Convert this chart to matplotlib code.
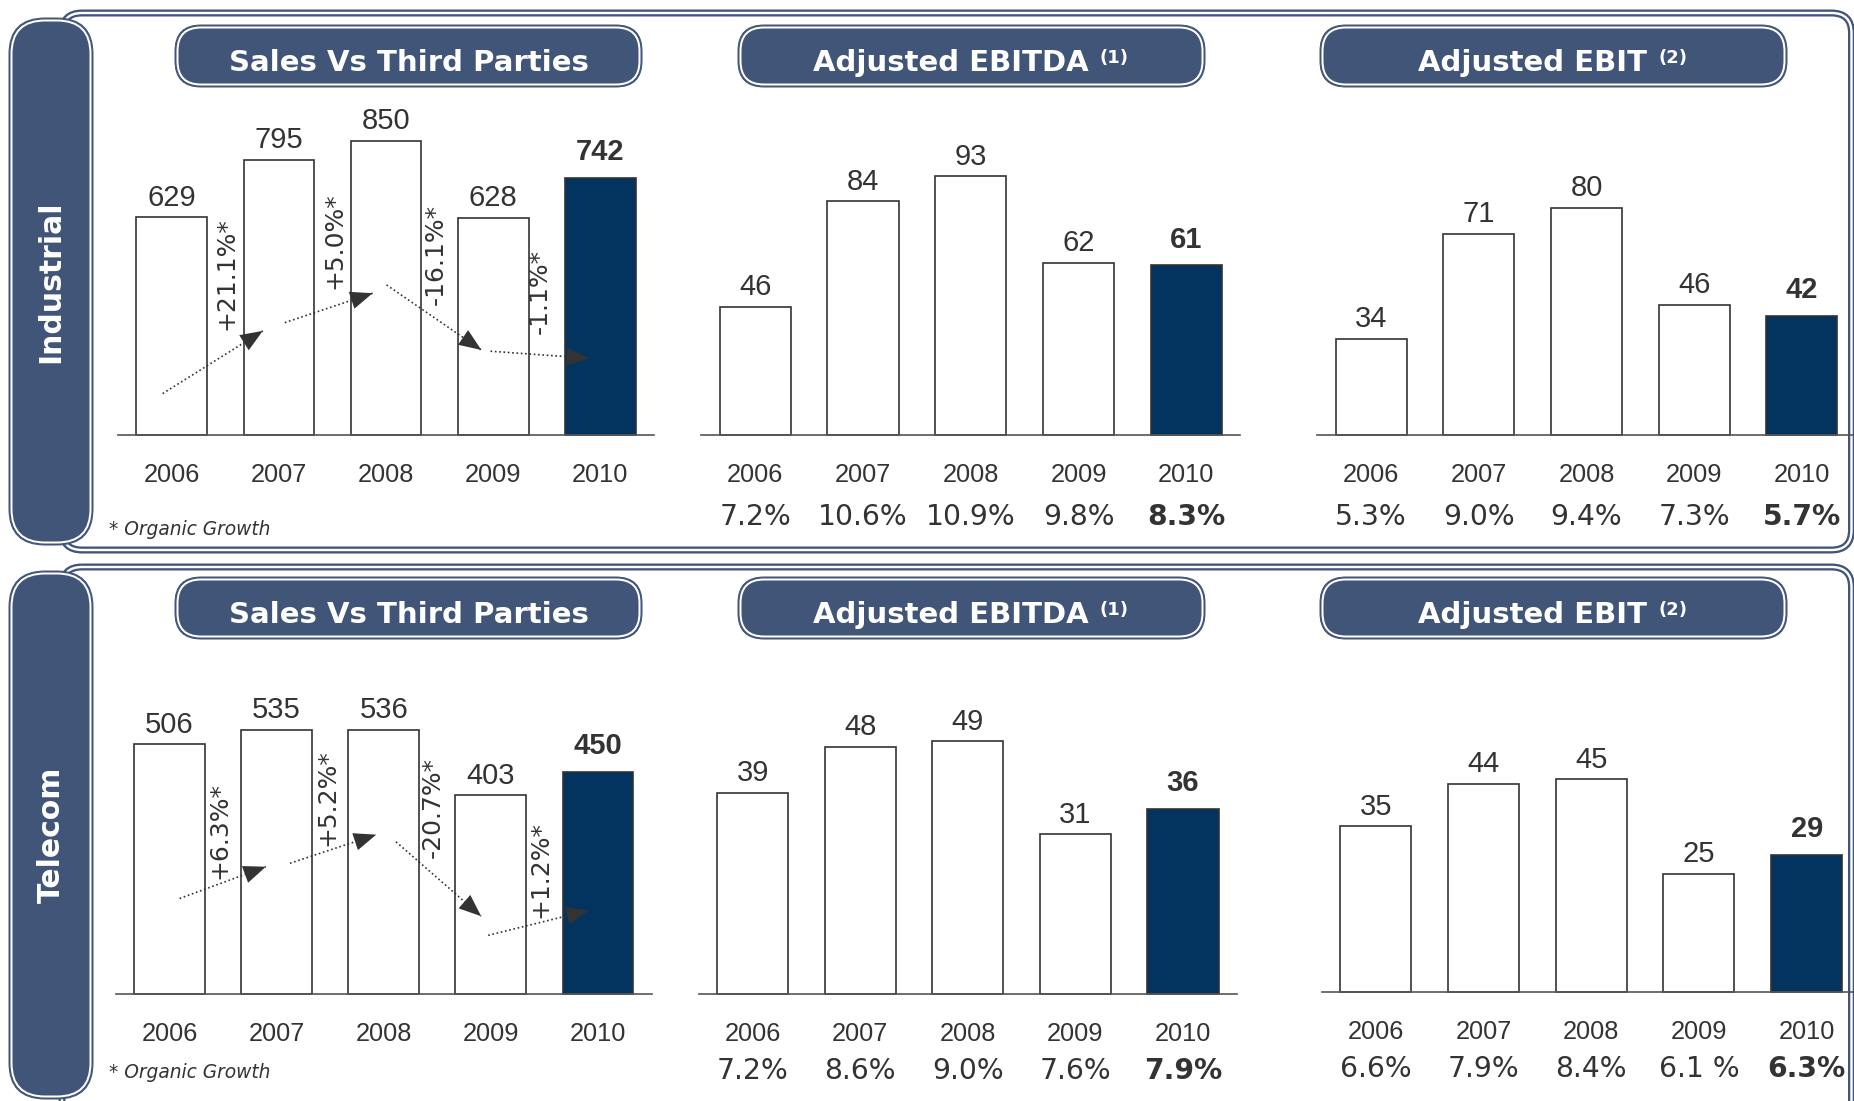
import matplotlib.pyplot as plt
from matplotlib.patches import FancyBboxPatch

# ---- data ----
years = ['2006', '2007', '2008', '2009', '2010']

ind_sales = [629, 795, 850, 628, 742]
ind_ebitda = [46, 84, 93, 62, 61]
ind_ebit = [34, 71, 80, 46, 42]
ind_ebitda_margin = ['7.2%', '10.6%', '10.9%', '9.8%', '8.3%']
ind_ebit_margin = ['5.3%', '9.0%', '9.4%', '7.3%', '5.7%']
ind_growth = ['+21.1%*', '+5.0%*', '-16.1%*', '-1.1%*']

tel_sales = [506, 535, 536, 403, 450]
tel_ebitda = [39, 48, 49, 31, 36]
tel_ebit = [35, 44, 45, 25, 29]
tel_ebitda_margin = ['7.2%', '8.6%', '9.0%', '7.6%', '7.9%']
tel_ebit_margin = ['6.6%', '7.9%', '8.4%', '6.1 %', '6.3%']
tel_growth = ['+6.3%*', '+5.2%*', '-20.7%*', '+1.2%*']

titles = ['Sales Vs Third Parties', 'Adjusted EBITDA', 'Adjusted EBIT']
notes = [None, '(1)', '(2)']
segments = ['Industrial', 'Telecom']

# ---- style ----
SLATE = '#415578'
NAVY = '#03345f'
TXT = '#333333'
NUM_FONT = 'Liberation Sans'
VER_FONT = 'DejaVu Sans'

W, H = 1854, 1101
PX = 0.72  # points per pixel at 100 dpi

fig = plt.figure(figsize=(W / 100, H / 100), dpi=100)
bg = fig.add_axes([0, 0, 1, 1], zorder=0)
bg.set_xlim(0, W)
bg.set_ylim(H, 0)
bg.axis('off')


def rbox(x0, y0, x1, y1, r, **kw):
    bg.add_patch(FancyBboxPatch((x0, y0), x1 - x0, y1 - y0,
                                boxstyle=f'round,pad=0,rounding_size={r}', **kw))


def pill(x0, y0, x1, y1, r):
    rbox(x0, y0, x1, y1, r, fc=SLATE, ec=SLATE, lw=1 * PX)
    rbox(x0 + 2.5, y0 + 2.5, x1 - 2.5, y1 - 2.5, r - 2.5, fc='none', ec='white', lw=2 * PX)


def frame(x0, y0, x1, y1, r):
    rbox(x0, y0, x1, y1, r, fc='none', ec=SLATE, lw=7 * PX)
    rbox(x0, y0, x1, y1, r, fc='none', ec='white', lw=2.4 * PX)


def header(x0, x1, y0, y1, title, note):
    pill(x0, y0, x1, y1, 26)
    cx = (x0 + x1) / 2
    base = y1 - 16
    if note is None:
        bg.text(cx, base, title, ha='center', va='baseline', color='white',
                fontsize=21, fontweight='bold', family=VER_FONT)
        return
    t = bg.text(cx - 21, base, title, ha='center', va='baseline', color='white',
                fontsize=21, fontweight='bold', family=VER_FONT)
    bg.annotate(note, xy=(1.0, base - 8), xycoords=(t, 'data'),
                xytext=(8, 0), textcoords='offset points', ha='left', va='baseline',
                color='white', fontsize=13, fontweight='bold', family=VER_FONT)


def draw_panel(x0, x1, base, peak, vals, margins=None, pct_off=65):
    ax = fig.add_axes([x0 / W, 1 - base / H, (x1 - x0) / W, (base - peak) / H], zorder=1)
    ax.set_facecolor('none')
    ax.set_xlim(-0.5, 4.5)
    ax.set_ylim(0, max(vals))
    colors = ['white'] * (len(vals) - 1) + [NAVY]
    ax.bar(range(len(vals)), vals, width=0.66, color=colors,
           edgecolor='#333333', linewidth=1.2, clip_on=False)
    for s in ['top', 'left', 'right']:
        ax.spines[s].set_visible(False)
    ax.spines['bottom'].set_color('#555555')
    ax.spines['bottom'].set_linewidth(1.2)
    ax.set_xticks([])
    ax.set_yticks([])
    last = len(vals) - 1
    for i, v in enumerate(vals):
        bold = i == last
        ax.annotate(str(v), (i, v), xytext=(0, 12.7 if bold else 8.4), textcoords='offset points',
                    ha='center', va='baseline', fontsize=21, color=TXT, family=NUM_FONT,
                    fontweight='bold' if bold else 'normal', annotation_clip=False)
        ax.annotate(years[i], (i, 0), xytext=(0, -33.5), textcoords='offset points',
                    ha='center', va='baseline', fontsize=18.3, color=TXT, family=NUM_FONT,
                    annotation_clip=False)
        if margins is not None:
            ax.annotate(margins[i], (i, 0), xytext=(0, -pct_off), textcoords='offset points',
                        ha='center', va='baseline', fontsize=20.3, color=TXT, family=VER_FONT,
                        fontweight='bold' if bold else 'normal', annotation_clip=False)
    return ax


def growth_arrows(ax, labels, label_pos, arrows):
    for (sx, sy), (ex, ey) in arrows:
        ax.plot([sx, ex], [sy, ey], transform=ax.transAxes, color='#333333',
                lw=1.2, ls=(0, (1, 1.6)), clip_on=False)
        ax.annotate('', xy=(ex, ey), xytext=(sx, sy), xycoords='axes fraction',
                    arrowprops=dict(arrowstyle='-|>,head_length=0.8,head_width=0.32',
                                    lw=0, color='#333333', shrinkA=0, shrinkB=0,
                                    mutation_scale=20))
    for lab, (lx, ly) in zip(labels, label_pos):
        ax.text(lx, ly, lab, transform=ax.transAxes, rotation=90, ha='center', va='center',
                fontsize=18, color=TXT, family=VER_FONT, clip_on=False)


# ---- frames, side bars, headers ----
rows = [
    dict(frame=(62, 13, 1851.5, 550), pill=(9, 18, 93, 545), head=(25, 87), note_y=535),
    dict(frame=(62, 567, 1851.5, 1130), pill=(9, 571, 93, 1099), head=(577, 639), note_y=1078),
]
head_x = [(175, 642), (738, 1205), (1320, 1787)]

for seg, row in zip(segments, rows):
    frame(*row['frame'], 20)
    px0, py0, px1, py1 = row['pill']
    pill(px0, py0, px1, py1, 36)
    bg.text((px0 + px1) / 2, (py0 + py1) / 2, seg, rotation=90, ha='center', va='center',
            color='white', fontsize=21.5, fontweight='bold', family=VER_FONT)
    for (hx0, hx1), title, note in zip(head_x, titles, notes):
        header(hx0, hx1, row['head'][0], row['head'][1], title, note)
    bg.text(109, row['note_y'], '* Organic Growth', ha='left', va='baseline',
            fontsize=13.4, style='italic', color=TXT, family=VER_FONT)

# ---- Industrial ----
ax = draw_panel(118.2, 653.9, 435.1, 140.7, ind_sales)
growth_arrows(ax, ind_growth,
              [(0.201, 0.548), (0.404, 0.661), (0.592, 0.615), (0.786, 0.488)],
              [((0.083, 0.141), (0.270, 0.354)), ((0.311, 0.382), (0.475, 0.482)),
               ((0.501, 0.510), (0.678, 0.289)), ((0.695, 0.285), (0.879, 0.261))])
draw_panel(701.2, 1240.3, 435.1, 176.2, ind_ebitda, ind_ebitda_margin, 65)
draw_panel(1317.2, 1855.8, 435.1, 208.1, ind_ebit, ind_ebit_margin, 65)

# ---- Telecom ----
ax = draw_panel(115.9, 651.5, 994.4, 729.5, tel_sales)
growth_arrows(ax, tel_growth,
              [(0.194, 0.618), (0.395, 0.741), (0.592, 0.707), (0.793, 0.471)],
              [((0.119, 0.362), (0.280, 0.482)), ((0.325, 0.495), (0.486, 0.603)),
               ((0.523, 0.576), (0.682, 0.295)), ((0.695, 0.223), (0.883, 0.317))])
draw_panel(698.8, 1236.8, 994.4, 741.4, tel_ebitda, tel_ebitda_margin, 61)
draw_panel(1321.9, 1860.5, 992.0, 779.2, tel_ebit, tel_ebit_margin, 61)

fig.savefig('out.png', dpi=100)
